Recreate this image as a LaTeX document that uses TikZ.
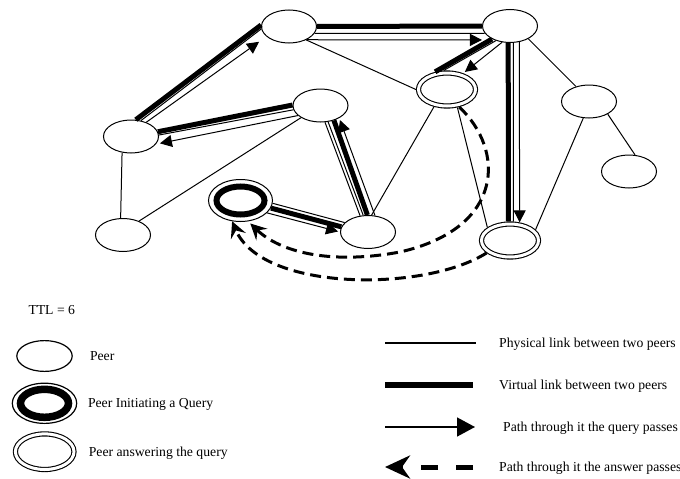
\documentclass[tikz,border=0pt]{standalone}
\usepackage{fontspec}
\setmainfont{Liberation Serif}
\usetikzlibrary{shapes.geometric, positioning, arrows.meta}

\begin{document}
\begin{tikzpicture}[x=1pt, y=1pt,
    peer/.style={ellipse, draw, fill=white, line width=1pt, inner sep=0pt, minimum width=55pt, minimum height=33pt},
    answer/.style={peer, double, double distance=3pt, line width=1.1pt, outer sep=2.6pt, minimum width=57pt, minimum height=33pt},
    initpeer/.style={peer, minimum width=64pt, minimum height=42pt,
        path picture={\draw[line width=#1] (path picture bounding box.center) ellipse (24pt and 14pt);}},
    initpeer/.default=6pt,
    plink/.style={line width=1pt},
    vlink/.style={line width=5pt},
    qpath/.style={line width=1pt, -{Triangle[length=12pt, width=12pt]}},
    apath/.style={line width=3pt, dash pattern=on 11pt off 6pt, -{Stealth[length=16pt, width=16pt, inset=6pt]}},
    legtext/.style={font=\fontsize{13.7}{16}\selectfont, inner sep=0pt, text height=10.5pt, text depth=1.5pt}]
    \useasboundingbox (0,0) rectangle (680,-479);

    \node[peer] (a) at (289,-26.5) {};
    \node[peer] (b) at (510,-26) {};
    \node[answer] (c) at (447,-89.5) {};
    \node[peer] (d) at (589,-101.5) {};
    \node[peer] (e) at (629,-171.5) {};
    \node[answer] (f) at (510,-240.5) {};
    \node[peer] (g) at (320.5,-105.5) {};
    \node[peer] (h) at (131,-136.5) {};
    \node[peer] (i) at (123,-235) {};
    \node[initpeer] (j) at (240.5,-200.5) {};
    \node[peer] (k) at (368,-232) {};

    \draw[plink] (a.-38) -- (c.180);
    \draw[plink] (h.241) -- (i.98);
    \draw[plink] (i.41) -- (g.212);
    \draw[plink] (c.233) -- (k.78);
    \draw[plink] (c.300) -- (f.150);
    \draw[plink] (f.23) -- (d.251);
    \draw[plink] (b.325) -- (d.131);
    \draw[plink] (d.326) -- (e.70);

    \draw[vlink] (h.74) -- (a.177);
    \draw[plink] (h.58) -- (a.185);
    \draw[qpath, shorten >=9pt] (h.43) -- (a.204);

    \draw[vlink] (a) -- (b);
    \draw[plink] (a.-15.5) -- (b.196);
    \draw[qpath, shorten >=12pt] (a.-37) -- (b.221);

    \draw[vlink] (b.216) -- (c.124);
    \draw[plink] (b.226) -- (c.100);
    \draw[qpath, shorten >=2pt] (b.244) -- (c.45);

    \draw[vlink] (b.264) -- (f.95);
    \draw[plink] (b.281) -- (f.80);
    \draw[qpath] (b.300) -- (f.62);

    \draw[vlink] (g.179) -- (h.10);
    \draw[plink] (g.189) -- (h.3);
    \draw[qpath, shorten >=4pt] (g.204) -- (h.-17);

    \draw[plink] (k.116) -- (g.-75);
    \draw[plink] (k.106) -- (g.-65);
    \draw[vlink] (k.92) -- (g.-48);
    \draw[qpath, shorten >=2pt] (k.67) -- (g.-34);

    \draw[plink] (j.-5) -- (k.158);
    \draw[vlink] (j.-14) -- (k.169);
    \draw[qpath, shorten >=2pt] (j.-25) -- (k.180);

    \draw[apath, shorten >=3pt] (c.-55) .. controls (505,-150) and (505,-228) .. (400,-252)
        .. controls (330,-265) and (280,-252) .. (j.-70);
    \draw[apath] (f.208) .. controls (425,-292) and (262,-292) .. (j.-112);

    \node[legtext, anchor=west] (ttl) at (28.3,-310) {TTL = 6};
    \node[peer, minimum width=55.4pt, minimum height=30.8pt, line width=1.2pt] (lpeer) at (44.5,-356) {};
    \node[initpeer=7.5pt, minimum width=64.4pt, minimum height=40.2pt, line width=1.2pt] (linit) at (44.5,-403.3) {};
    \node[answer, minimum width=58.6pt, minimum height=35.6pt] (lans) at (44.7,-451.7) {};
    \node[legtext, right=17pt of lpeer] {Peer};
    \node[legtext, right=10.5pt of linit] {Peer Initiating a Query};
    \node[legtext, right=12pt of lans] {Peer answering the query};

    \coordinate (phy1) at (385,-343);
    \coordinate[right=91pt of phy1] (phy2);
    \coordinate (vir1) at (385,-385);
    \coordinate[right=88pt of vir1] (vir2);
    \coordinate (qry1) at (385,-427);
    \coordinate[right=90pt of qry1] (qry2);
    \coordinate (ans1) at (385,-467);
    \coordinate[right=88pt of ans1] (ans2);
    \draw[plink, line width=1.5pt] (phy1) -- (phy2);
    \draw[vlink, line width=6pt] (vir1) -- (vir2);
    \draw[qpath, line width=1.5pt, -{Triangle[length=18pt, width=19pt]}] (qry1) -- (qry2);
    \draw[apath, line width=5pt, dash pattern=on 17pt off 18pt, -{Stealth[length=25pt, width=23pt, inset=8pt]}] (ans2) -- (ans1);
    \node[legtext, right=23pt of phy2] {Physical link between two peers};
    \node[legtext, right=26pt of vir2] {Virtual link between two peers};
    \node[legtext, right=28pt of qry2] {Path through it the query passes};
    \node[legtext, right=26pt of ans2] {Path through it the answer passes};
\end{tikzpicture}
\end{document}
